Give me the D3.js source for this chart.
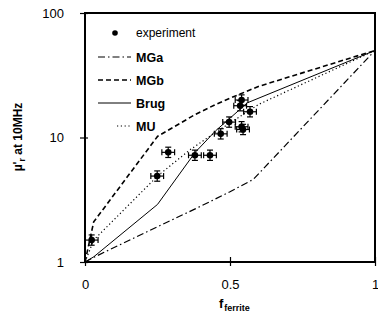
<!DOCTYPE html>
<html><head><meta charset="utf-8">
<script src="https://d3js.org/d3.v7.min.js"></script>
<style>body{margin:0;background:#fff}svg{display:block}text{font-family:"Liberation Sans",Arial,sans-serif;fill:#000}</style>
</head><body><svg id="c" width="378" height="319"></svg>
<script>
// Experimental data
const expF  = [0.023, 0.249, 0.287, 0.379, 0.431, 0.468, 0.497, 0.535, 0.54, 0.54, 0.569, 0.545];
const expMu = [1.5,   4.9,   7.6,   7.2,   7.2,   10.7,  13.3,  18.0,  20.0, 12.2, 16.1,  11.6];
const errF = 0.022;      // horizontal error (fraction)
const errMuRel = 0.10;   // relative vertical error
// Model curves
const mgaF  = [0, 0.03, 0.25, 0.38, 0.5, 0.58, 1];
const mgaMu = [1, 1.09, 1.92, 2.67, 3.67, 4.6, 50];
const mgbF  = [0, 0.03, 0.25, 0.38, 0.45, 0.5, 0.6, 1];
const mgbMu = [1, 2.1, 10.2, 15.3, 18.4, 20.7, 25.8, 50];
const brugF  = [0, 0.03, 0.25, 0.38, 0.45, 0.5, 0.56, 1];
const brugMu = [1, 1.1, 2.9, 7.6, 11.3, 14.3, 19.0, 50];
const muF  = [0, 0.03, 0.25, 0.36, 0.45, 0.6, 1];
const muMu = [1, 1.5, 4.9, 7.9, 11.0, 18.5, 50];
const xTicks = [0, 0.5, 1];
const xTickLabels = ["0", "0.5", "1"];
const yTicks = [1, 10, 100];
const yTickLabels = ["1", "10", "100"];
const legendLabels = ["experiment", "MGa", "MGb", "Brug", "MU"];

const svg = d3.select("#c");
const x = d3.scaleLinear().domain([0, 1]).range([85, 375]);
const y = d3.scaleLog().domain([1, 100]).range([262, 13]);

const styles = {
  MGa: {dash: "7,3,1.5,3", w: 1.2},
  MGb: {dash: "5,3", w: 1.6},
  Brug: {dash: null, w: 1},
  MU: {dash: "1.2,2.6", w: 1.2}
};
const series = [
  {name: "MGa", f: mgaF, m: mgaMu},
  {name: "MGb", f: mgbF, m: mgbMu},
  {name: "Brug", f: brugF, m: brugMu},
  {name: "MU", f: muF, m: muMu}
];
const line = d3.line().x(d => x(d[0])).y(d => y(d[1]));
series.forEach(s => {
  const st = styles[s.name];
  svg.append("path")
    .attr("d", line(s.f.map((f, i) => [f, s.m[i]])))
    .attr("fill", "none").attr("stroke", "#000")
    .attr("stroke-width", st.w)
    .attr("stroke-dasharray", st.dash);
});

// frame
svg.append("rect").attr("x", x(0)).attr("y", y(100))
  .attr("width", x(1) - x(0)).attr("height", y(1) - y(100))
  .attr("fill", "none").attr("stroke", "#000").attr("stroke-width", 2);

// axes
const yAxis = d3.axisLeft(y).tickValues(yTicks).tickFormat((d, i) => yTickLabels[i]).tickSize(6).tickPadding(12);
const gy = svg.append("g").attr("transform", `translate(${x(0)},0)`).call(yAxis);
gy.select(".domain").remove();
gy.selectAll(".tick line").attr("x2", 3).attr("x1", -5).attr("stroke-width", 1.2);
gy.selectAll("text").attr("font-size", 13).attr("dx", -3);

const xAxis = d3.axisBottom(x).tickValues(xTicks).tickFormat((d, i) => xTickLabels[i]).tickSize(4).tickPadding(14);
const gx = svg.append("g").attr("transform", `translate(0,${y(1)})`).call(xAxis);
gx.select(".domain").remove();
gx.selectAll(".tick line").attr("y1", -5).attr("y2", 4).attr("stroke-width", 1.2);
gx.selectAll("text").attr("font-size", 13);

// axis titles
const xl = svg.append("text").attr("x", 219).attr("y", 308).attr("font-size", 13).attr("font-weight", "bold");
xl.append("tspan").text("f");
xl.append("tspan").attr("font-size", 9).attr("dy", 3).attr("dx", 1).text("ferrite");

const yl = svg.append("text").attr("transform", "translate(22,137) rotate(-90)")
  .attr("text-anchor", "middle").attr("font-size", 12).attr("font-weight", "bold");
yl.append("tspan").text("\u00B5");
yl.append("tspan").text("'");
yl.append("tspan").attr("font-size", 9).attr("dy", 3).text("r");
yl.append("tspan").attr("dy", -3).text(" at 10MHz");

// experimental points with error bars
const pts = expF.map((f, i) => [f, expMu[i]]);
const g = svg.append("g");
pts.forEach(p => {
  const cx = x(p[0]), cy = y(p[1]);
  const xl0 = x(p[0] - errF), xr0 = x(p[0] + errF);
  const yt = y(p[1] * (1 + errMuRel)), yb = y(p[1] / (1 + errMuRel));
  g.append("line").attr("x1", xl0).attr("x2", xr0).attr("y1", cy).attr("y2", cy).attr("stroke", "#000").attr("stroke-width", 1.2);
  g.append("line").attr("x1", cx).attr("x2", cx).attr("y1", yt).attr("y2", yb).attr("stroke", "#000").attr("stroke-width", 1.2);
  [xl0, xr0].forEach(xx => g.append("line").attr("x1", xx).attr("x2", xx).attr("y1", cy - 3).attr("y2", cy + 3).attr("stroke", "#000").attr("stroke-width", 1.2));
  [yt, yb].forEach(yy => g.append("line").attr("x1", cx - 3).attr("x2", cx + 3).attr("y1", yy).attr("y2", yy).attr("stroke", "#000").attr("stroke-width", 1.2));
  g.append("circle").attr("cx", cx).attr("cy", cy).attr("r", 3.3).attr("fill", "#000");
});

// legend
const lg = svg.append("g");
const ly = [33, 57, 80, 103, 126];
lg.append("circle").attr("cx", 115).attr("cy", ly[0]).attr("r", 2.8).attr("fill", "#000");
lg.append("text").attr("x", 136).attr("y", ly[0] + 4).attr("font-size", 12).text(legendLabels[0]);
["MGa", "MGb", "Brug", "MU"].forEach((n, i) => {
  const st = styles[n];
  const x1 = n === "MU" ? 117 : 98;
  lg.append("line").attr("x1", x1).attr("x2", 131).attr("y1", ly[i + 1]).attr("y2", ly[i + 1])
    .attr("stroke", "#000").attr("stroke-width", st.w).attr("stroke-dasharray", st.dash);
  lg.append("text").attr("x", 136).attr("y", ly[i + 1] + 4.5).attr("font-size", 12.5)
    .attr("font-weight", "bold").text(legendLabels[i + 1]);
});
</script></body></html>
